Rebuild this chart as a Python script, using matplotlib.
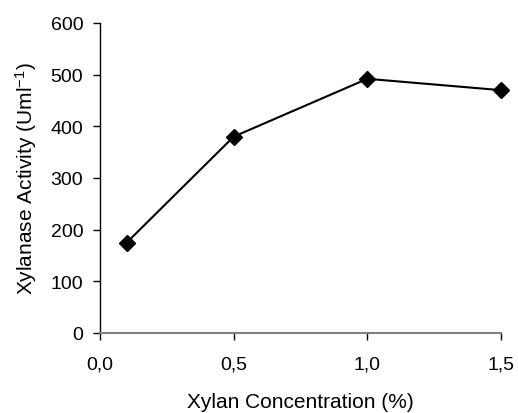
import matplotlib
matplotlib.use("Agg")
import matplotlib.pyplot as plt
from matplotlib.ticker import FuncFormatter

plt.rcParams['font.family'] = ['Liberation Sans', 'DejaVu Sans']
plt.rcParams['mathtext.fontset'] = 'custom'
plt.rcParams['mathtext.rm'] = 'Liberation Sans'
plt.rcParams['mathtext.it'] = 'Liberation Sans'
plt.rcParams['mathtext.bf'] = 'Liberation Sans'

xylan_conc = [0.1, 0.5, 1.0, 1.5]
activity = [175, 380, 492, 470]
x_ticks = [0.0, 0.5, 1.0, 1.5]
y_ticks = [0, 100, 200, 300, 400, 500, 600]

tfs = 14
lfs = 15
fig = plt.figure(figsize=(5.18, 4.14), dpi=100)
ax = fig.add_axes([100/518, 1-334/414, 401/518, 310/414])
ax.plot(xylan_conc, activity, color='black', lw=1.5, marker='D', ms=8.5,
        mfc='black', mec='black', clip_on=False)
ax.set_xlim(0, 1.5)
ax.set_ylim(0, 600)
ax.set_xticks(x_ticks)
ax.set_yticks(y_ticks)
ax.xaxis.set_major_formatter(FuncFormatter(lambda v, p: f"{v:.1f}".replace('.', ',')))
for s in ['top', 'right']:
    ax.spines[s].set_visible(False)
ax.spines['left'].set_color('black')
ax.spines['bottom'].set_color('#808080')
ax.spines['left'].set_linewidth(1.0)
ax.spines['bottom'].set_linewidth(1.5)
ax.tick_params(axis='x', direction='out', length=5, width=1.0, color='black', labelsize=tfs, pad=11)
ax.tick_params(axis='y', direction='out', length=5, width=1.0, color='black', labelsize=tfs, pad=7)
ax.set_xlabel('Xylan Concentration (%)', fontsize=lfs, labelpad=14)
ax.set_ylabel('Xylanase Activity (Uml$^{\\mathrm{-1}}$)', fontsize=lfs, labelpad=8)
fig.savefig('out.png', dpi=100)
